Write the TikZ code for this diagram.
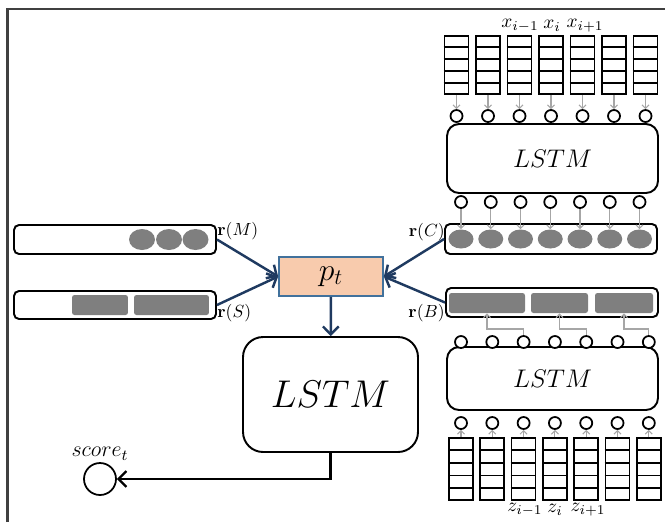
\RequirePackage{fix-cm}
\documentclass[tikz,border=0pt]{standalone}
\usepackage{amsmath}
\usepackage{amssymb}
\usetikzlibrary{arrows.meta,shapes.geometric,calc}

\definecolor{navyline}{HTML}{1F3A60}
\definecolor{peach}{HTML}{F8CBAD}
\definecolor{ptborder}{HTML}{41719C}
\definecolor{cellgray}{HTML}{7F7F7F}
\definecolor{framegray}{HTML}{404040}

\tikzset{
  lstm/.style={draw, line width=1.1pt, rounded corners=0.24cm, minimum width=4.22cm, minimum height=1.38cm, font=\fontsize{14.5}{17}\selectfont},
  io/.style={draw, circle, line width=1pt, fill=white, minimum size=0.24cm, inner sep=0pt},
  stackbox/.style={draw, line width=1pt, minimum width=0.48cm, minimum height=1.16cm, inner sep=0pt},
  featbox/.style={draw, line width=1.1pt, rounded corners=0.1cm, minimum width=4.04cm, minimum height=0.58cm, inner sep=0pt},
  blob/.style={ellipse, fill=cellgray, minimum width=0.5cm, minimum height=0.38cm, inner sep=0pt},
  barbox/.style={rectangle, rounded corners=0.05cm, fill=cellgray, minimum height=0.4cm, inner sep=0pt},
  grayarrow/.style={-{Straight Barb[length=2pt, width=4pt]}, draw=gray!70, line width=0.6pt},
  navyarrow/.style={-{Straight Barb[length=4.5pt, width=9pt]}, draw=navyline, line width=1.4pt},
  rlab/.style={font=\fontsize{10}{12}\selectfont, inner sep=0pt},
  idx/.style={font=\fontsize{11}{13}\selectfont, inner sep=0pt}
}

\begin{document}
\begin{tikzpicture}[x=0.02cm, y=-0.02cm]
\useasboundingbox (0,0) rectangle (665,522);
\draw[line width=1.2pt, framegray] (7.5,522) -- (7.5,9) -- (665,9);

% encoder over x
\node[lstm] (lstmx)at(552.5, 158.5) {$LSTM$};
\foreach \k [evaluate=\k as \cx using 456.5+31.5*(\k-1)] in {1,...,7} {
  \node[stackbox] (xs\k)at(\cx, 65) {};
  \foreach \j in {1,...,4}
    \draw[line width=1pt] ($(xs\k.north west)!\j/5!(xs\k.south west)$) -- ($(xs\k.north east)!\j/5!(xs\k.south east)$);
  \node[io] (xi\k)at(\cx, 116) {};
  \draw[grayarrow] (xs\k) -- (xi\k);
}
\node[idx] (lx1)at(520, 26) {$x_{i-1}$};
\node[idx] (lx2)at(552, 26) {$x_{i}$};
\node[idx] (lx3)at(585, 26) {$x_{i+1}$};

% r(C)
\node[featbox, minimum width=4.24cm, minimum height=0.6cm] (rc)at(551, 239) {};
\foreach \k [evaluate=\k as \cx using 461+29.75*(\k-1)] in {1,...,7} {
  \node[io] (xo\k)at(\cx, 202) {};
  \node[blob] (cb\k)at(\cx, 239) {};
  \draw[grayarrow] (xo\k) -- (cb\k);
}

% r(B) and encoder over z
\node[featbox, minimum width=4.24cm] (rb)at(552, 302.5) {};
\node[barbox, minimum width=1.52cm] (b1)at(487, 303) {};
\node[barbox, minimum width=1.14cm] (b2)at(559.5, 303) {};
\node[barbox, minimum width=1.16cm] (b3)at(624, 303) {};
\node[lstm, minimum height=1.26cm] (lstmz)at(552.5, 378.5) {$LSTM$};
\foreach \k [evaluate=\k as \cx using 461+31.3*(\k-1)] in {1,...,7} {
  \node[io] (zo\k)at(\cx, 342) {};
  \node[io] (zi\k)at(\cx, 423) {};
  \node[stackbox, minimum height=1.24cm] (zs\k)at(\cx, 469) {};
  \foreach \j in {1,...,4}
    \draw[line width=1pt] ($(zs\k.north west)!\j/5!(zs\k.south west)$) -- ($(zs\k.north east)!\j/5!(zs\k.south east)$);
  \draw[grayarrow] (zs\k) -- (zi\k);
}
\draw[grayarrow] (zo3) -- ++(0,-13) -| (b1);
\draw[grayarrow] (zo5) -- ++(0,-13) -| (b2);
\draw[grayarrow] (zo7) -- ++(0,-13) -| (b3);
\node[idx] (lz1)at(525, 510) {$z_{i-1}$};
\node[idx] (lz2)at(555, 510) {$z_{i}$};
\node[idx] (lz3)at(588, 510) {$z_{i+1}$};

% r(M), r(S)
\node[featbox] (rm)at(115, 239.5) {};
\foreach \cx [count=\n] in {142, 169, 195.5}
  \node[blob, minimum width=0.52cm, minimum height=0.42cm] (m\n)at(\cx, 239.5) {};
\node[featbox, minimum height=0.56cm] (rs)at(115, 305) {};
\node[barbox, minimum width=1.12cm] (s1)at(100, 305) {};
\node[barbox, minimum width=1.5cm] (s2)at(171.5, 305) {};

\node[rlab, anchor=west] (lm)at(217, 231) {$\mathbf{r}(M)$};
\node[rlab, anchor=west] (ls)at(217, 313) {$\mathbf{r}(S)$};
\node[rlab, anchor=east] (lc)at(445, 232) {$\mathbf{r}(C)$};
\node[rlab, anchor=east] (lb)at(445, 313) {$\mathbf{r}(B)$};

% attention and decoder
\node[draw=ptborder, fill=peach, line width=1pt, minimum width=2.08cm, minimum height=0.78cm, font=\fontsize{18}{20}\selectfont] (pt)at(331, 276.5) {$p_t$};
\node[lstm, rounded corners=0.4cm, minimum width=3.5cm, minimum height=2.3cm, font=\fontsize{22}{26}\selectfont] (dec)at(330.5, 394.5) {$LSTM$};
\node[draw, circle, line width=1pt, minimum size=0.64cm, label={[font=\fontsize{12.5}{15}\selectfont, inner sep=1pt]above:$score_t$}] (score)at(100, 479) {};

\draw[navyarrow] (rm.east) -- (pt.west);
\draw[navyarrow] (rs.east) -- (pt.west);
\draw[navyarrow] (rc.west) -- (pt.east);
\draw[navyarrow] (rb.west) -- (pt.east);
\draw[navyarrow] (pt) -- (dec);
\draw[-{Straight Barb[length=4.5pt, width=9pt]}, line width=1.3pt] (dec) |- (score);
\end{tikzpicture}
\end{document}
